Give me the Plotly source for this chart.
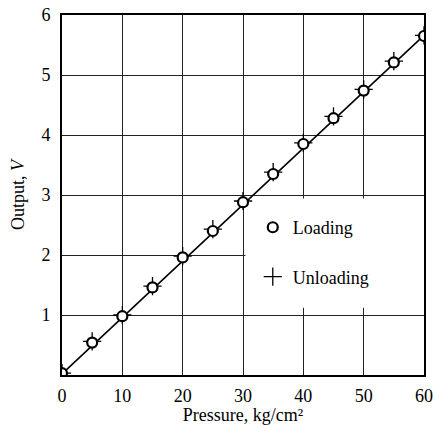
import plotly.graph_objects as go

# Calibration data: transducer output against applied pressure
pressure = [0, 5, 10, 15, 20, 25, 30, 35, 40, 45, 50, 55, 60]
output_loading = [0.03, 0.54, 0.98, 1.46, 1.96, 2.40, 2.88, 3.35, 3.85, 4.28, 4.74, 5.21, 5.65]
output_unloading = [0.03, 0.56, 1.00, 1.48, 1.98, 2.43, 2.90, 3.38, 3.87, 4.31, 4.76, 5.23, 5.66]

# Straight calibration line
fit_x = [0, 60]
fit_y = [0.02, 5.66]

x_ticks = [0, 10, 20, 30, 40, 50, 60]
y_ticks = [1, 2, 3, 4, 5, 6]

FONT = "Liberation Serif, Times New Roman, serif"

fig = go.Figure()

fig.add_trace(go.Scatter(
    x=fit_x, y=fit_y, mode="lines",
    line=dict(color="black", width=1.6),
    showlegend=False, hoverinfo="skip",
))
fig.add_trace(go.Scatter(
    x=pressure, y=output_unloading, mode="markers", name="Unloading",
    marker=dict(symbol="cross-thin", size=13, color="black",
                line=dict(color="black", width=1.3)),
    legendgroup="u", legendrank=2,
))
fig.add_trace(go.Scatter(
    x=pressure, y=output_loading, mode="markers", name="Loading",
    marker=dict(symbol="circle", size=10, color="white",
                line=dict(color="black", width=2.2)),
    legendgroup="l", legendrank=1,
))

# Blank panel behind the legend, hiding the grid there
fig.add_shape(type="rect", x0=30.4, x1=60, y0=1.12, y1=2.94,
              fillcolor="white", line=dict(width=0), layer="between")

axis_common = dict(
    showline=True, linecolor="black", linewidth=2, mirror=True,
    showgrid=True, gridcolor="#222222", gridwidth=0.9,
    zeroline=False, ticks="", automargin=False,
    tickfont=dict(family=FONT, size=18, color="black"),
)

fig.update_layout(
    width=435, height=425,
    margin=dict(l=62, r=11, t=15, b=50),
    paper_bgcolor="white", plot_bgcolor="white",
    font=dict(family=FONT, color="black"),
    xaxis=dict(range=[0, 60], tickvals=x_ticks, ticklabelstandoff=3,
               title=dict(text="Pressure, kg/cm\u00b2", standoff=4,
                          font=dict(family=FONT, size=18)),
               **axis_common),
    yaxis=dict(range=[0, 6], tickvals=y_ticks, ticklabelstandoff=6,
               title=dict(text="Output, <i>V</i>", standoff=12,
                          font=dict(family=FONT, size=18)),
               **axis_common),
    legend=dict(
        x=0.527, y=0.461, xanchor="left", yanchor="top",
        bgcolor="rgba(0,0,0,0)", borderwidth=0,
        traceorder="grouped", tracegroupgap=23,
        font=dict(family=FONT, size=18, color="black"),
    ),
)

fig.write_html("out.html")
